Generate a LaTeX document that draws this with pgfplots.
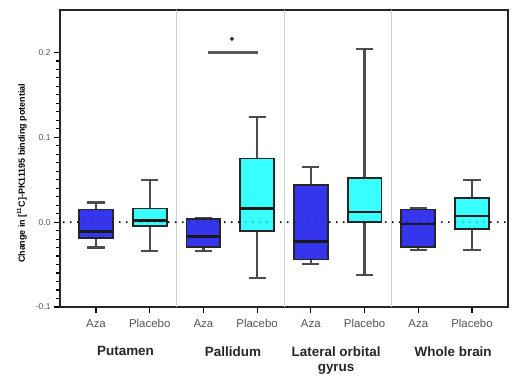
\documentclass[border=0pt]{standalone}
\usepackage{pgfplots}
\pgfplotsset{compat=1.18}
\usepgfplotslibrary{statistics}
\usepackage{fontspec}
\setmainfont{Liberation Sans}
\definecolor{aza}{HTML}{3535EE}
\definecolor{plac}{HTML}{38FFFF}
\definecolor{lblgray}{HTML}{555555}
\begin{document}
\begin{tikzpicture}
\useasboundingbox (-60bp,-72bp) rectangle (456bp,307bp);
\begin{axis}[
  at={(0,0)}, anchor=south west,
  scale only axis, width=448bp, height=297bp,
  xmin=-0.67, xmax=7.67, ymin=-0.1, ymax=0.25,
  clip=false,
  axis line style={line width=1.4pt, black!85},
  tick pos=left, tick align=outside,
  xtick={0,...,7},
  xticklabels={Aza,Placebo,Aza,Placebo,Aza,Placebo,Aza,Placebo},
  ytick={-0.1,0,0.1,0.2},
  minor y tick num=9,
  major tick length=6bp, minor tick length=4bp,
  every tick/.style={black, line width=1.2pt},
  /pgf/number format/assume math mode=true,
  yticklabel style={/pgf/number format/fixed, /pgf/number format/fixed zerofill, /pgf/number format/precision=1, font=\fontsize{8.5}{9}\selectfont, text=lblgray},
  xticklabel style={font=\fontsize{11.5}{13}\selectfont, text=lblgray, yshift=-3bp},
  ylabel={\bfseries Change in [\textsuperscript{11}C]-PK11195 binding potential},
  ylabel style={at={(axis description cs:-0.085,0.45)}, anchor=center, font=\fontsize{9}{11}\selectfont},
  boxplot/draw direction=y,
  boxplot/box extend=0.63,
  boxplot/whisker extend=0.32,
  /pgfplots/boxplot/every box/.style={draw=black!85, line width=1.8pt},
  /pgfplots/boxplot/every whisker/.style={draw=black!70, line width=2.4pt},
  /pgfplots/boxplot/every median/.style={draw=black!90, line width=2.4pt},
]
% separators
\addplot[gray!35, line width=0.8pt] coordinates {(1.5,-0.1) (1.5,0.25)};
\addplot[gray!35, line width=0.8pt] coordinates {(3.5,-0.1) (3.5,0.25)};
\addplot[gray!35, line width=0.8pt] coordinates {(5.5,-0.1) (5.5,0.25)};
% zero line
\addplot[black, line width=2pt, line cap=round, dash pattern=on 0pt off 7bp] coordinates {(-0.6,0) (7.67,0)};
% boxes
\addplot[draw=black!80, line width=2.4pt, fill=aza, boxplot prepared={draw position=0, lower whisker=-0.030, lower quartile=-0.019, median=-0.011, upper quartile=0.015, upper whisker=0.023}] coordinates {};
\addplot[draw=black!80, line width=2.4pt, fill=plac, boxplot prepared={draw position=1, lower whisker=-0.034, lower quartile=-0.005, median=0.002, upper quartile=0.016, upper whisker=0.050}] coordinates {};
\addplot[draw=black!80, line width=2.4pt, fill=aza, boxplot prepared={draw position=2, lower whisker=-0.034, lower quartile=-0.029, median=-0.017, upper quartile=0.004, upper whisker=0.005}] coordinates {};
\addplot[draw=black!80, line width=2.4pt, fill=plac, boxplot prepared={draw position=3, lower whisker=-0.066, lower quartile=-0.010, median=0.016, upper quartile=0.075, upper whisker=0.124}] coordinates {};
\addplot[draw=black!80, line width=2.4pt, fill=aza, boxplot prepared={draw position=4, lower whisker=-0.049, lower quartile=-0.044, median=-0.023, upper quartile=0.044, upper whisker=0.065}] coordinates {};
\addplot[draw=black!80, line width=2.4pt, fill=plac, boxplot prepared={draw position=5, lower whisker=-0.062, lower quartile=0.000, median=0.012, upper quartile=0.052, upper whisker=0.204}] coordinates {};
\addplot[draw=black!80, line width=2.4pt, fill=aza, boxplot prepared={draw position=6, lower whisker=-0.033, lower quartile=-0.029, median=-0.002, upper quartile=0.015, upper whisker=0.017}] coordinates {};
\addplot[draw=black!80, line width=2.4pt, fill=plac, boxplot prepared={draw position=7, lower whisker=-0.033, lower quartile=-0.008, median=0.007, upper quartile=0.028, upper whisker=0.050}] coordinates {};
% zero line over boxes, faint
\addplot[black, opacity=0.3, line width=2pt, line cap=round, dash pattern=on 0pt off 7bp] coordinates {(-0.6,0) (7.67,0)};
% significance
\addplot[black!65, line width=2.2pt] coordinates {(2.09,0.2) (3.02,0.2)};
\addplot[only marks, mark=*, mark size=1.9pt, black!80] coordinates {(2.53,0.216)};
% group labels
\node[anchor=north, font=\bfseries\fontsize{13.5}{15}\selectfont, text=black!85] at (axis cs:0.55,-0.1) [yshift=-36bp] {Putamen};
\node[anchor=north, font=\bfseries\fontsize{13.5}{15}\selectfont, text=black!85] at (axis cs:2.55,-0.1) [yshift=-36bp] {Pallidum};
\node[anchor=north, align=center, font=\bfseries\fontsize{13.5}{15}\selectfont, text=black!85] at (axis cs:4.47,-0.1) [yshift=-36bp] {Lateral orbital\\gyrus};
\node[anchor=north, font=\bfseries\fontsize{13.5}{15}\selectfont, text=black!85] at (axis cs:6.65,-0.1) [yshift=-36bp] {Whole brain};
\end{axis}
\end{tikzpicture}
\end{document}
